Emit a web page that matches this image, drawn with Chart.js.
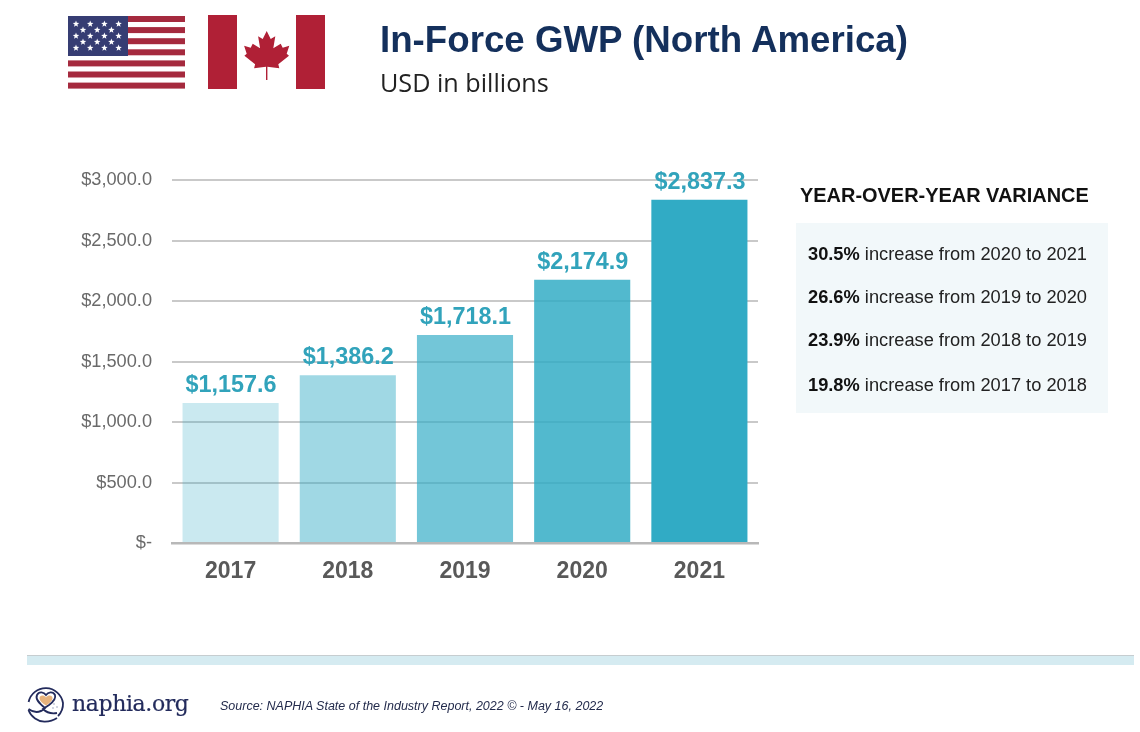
<!DOCTYPE html>
<html>
<head>
<meta charset="utf-8">
<title>In-Force GWP (North America)</title>
<script src="https://cdn.jsdelivr.net/npm/chart.js@4"></script>
<style>
  html, body { margin: 0; padding: 0; background: #fff; }
  body { position: relative; width: 1140px; height: 732px; overflow: hidden; font-family: "Liberation Sans", sans-serif; }
  .abs { position: absolute; white-space: nowrap; }
  #myChart { position: absolute; left: 0; top: 0; }
  #title { left: 380px; top: 18px; font-size: 36.7px; font-weight: bold; color: #14305c; line-height: 44px; }
  #subtitle { left: 380px; top: 66px; font-family: "Open Sans", sans-serif; font-size: 25.2px; color: #222; line-height: 33px; }
  #varTitle { left: 800px; top: 184px; font-size: 19.95px; font-weight: bold; color: #111; line-height: 23px; }
  #varPanel { left: 796px; top: 223px; width: 312px; height: 190px; background: #f2f8fa; }
  .varRow { left: 808px; font-size: 18.25px; color: #222; line-height: 20px; }
  .varRow b { color: #111; }
  #band { left: 27px; top: 655px; width: 1107px; height: 10px; background: #d5ebf1; border-top: 1px solid #c6cdd0; box-sizing: border-box; }
  #logoText { left: 72px; top: 686px; font-family: "DejaVu Serif", serif; font-size: 22px; color: #232b5c; line-height: 36px; letter-spacing: -0.4px; -webkit-text-stroke: 0.2px #232b5c; }
  #source { left: 220px; top: 698px; font-size: 12.5px; font-style: italic; color: #232b4c; line-height: 16px; }
</style>
</head>
<body>
<canvas id="myChart" width="1140" height="732"></canvas>

<svg class="abs" style="left:68px;top:16px" width="117" height="73" viewBox="0 0 117 73" id="usFlag"></svg>

<svg class="abs" style="left:208px;top:15px" width="117" height="74" viewBox="0 0 117 74">
  <rect x="0" y="0" width="29" height="74" fill="#b02036"/>
  <rect x="88" y="0" width="29" height="74" fill="#b02036"/>
  <path fill="#b02036" d="M58.7 16 L62.7 24 L67.3 21.3 L65.3 33.3 L72.7 28.7 L74.7 32.7 L81.3 30.7 L78.7 38.7 L81 40.7 L70.3 49.3 L71.3 53.3 L59.4 51.7 L59.4 65 L58 65 L58 51.7 L46.1 53.3 L47.1 49.3 L36.4 40.7 L38.7 38.7 L36.1 30.7 L42.7 32.7 L44.7 28.7 L52.1 33.3 L50.1 21.3 L54.7 24 Z"/>
</svg>

<div class="abs" id="title">In-Force GWP (North America)</div>
<div class="abs" id="subtitle">USD in billions</div>

<div class="abs" id="varTitle">YEAR-OVER-YEAR VARIANCE</div>
<div class="abs" id="varPanel"></div>

<div class="abs" id="band"></div>

<svg class="abs" style="left:26px;top:684px" width="40" height="40" viewBox="0 0 40 40">
  <path d="M2.6 18 A17.5 17.5 0 0 1 37 19 A17.5 17.5 0 0 1 32 32" fill="none" stroke="#232b5c" stroke-width="1.8"/>
  <path d="M2.5 26 C5 33 12 38 19 37.7 C24 37.5 28 36 31 34" fill="none" stroke="#232b5c" stroke-width="1.8"/>
  <path d="M2.5 25 C8 29 14 29 19 24 C13 19 9 15 11 11 C13 7 18 8 20 11 C22 8 27 7 29 11 C30 14 27 18 23 21 L17 25 C21 29 26 30 31 29" fill="none" stroke="#232b5c" stroke-width="1.8"/>
  <path d="M20 13.5 C22 10.5 26.5 11 26.5 14 C26.5 17 23 19.5 20 21.5 C17 19.5 13.5 17 13.5 14 C13.5 11 18 10.5 20 13.5 Z" fill="#e6b27c"/>
  <circle cx="28" cy="20" r="0.8" fill="#9aa0b8"/>
  <circle cx="31" cy="23" r="0.8" fill="#9aa0b8"/>
  <circle cx="27" cy="24" r="0.8" fill="#9aa0b8"/>
</svg>
<div class="abs" id="logoText">naphia.org</div>
<div class="abs" id="source">Source: NAPHIA State of the Industry Report, 2022 © - May 16, 2022</div>

<script>
const years = ["2017", "2018", "2019", "2020", "2021"];
const gwp = [1157.6, 1386.2, 1718.1, 2174.9, 2837.3];
const gwpLabels = ["$1,157.6", "$1,386.2", "$1,718.1", "$2,174.9", "$2,837.3"];
const barColors = [
  "rgba(49,171,197,0.26)",
  "rgba(49,171,197,0.46)",
  "rgba(49,171,197,0.68)",
  "rgba(49,171,197,0.84)",
  "rgba(49,171,197,1)"
];
const tickLabels = ["$-", "$500.0", "$1,000.0", "$1,500.0", "$2,000.0", "$2,500.0", "$3,000.0"];

const varPct = ["30.5%", "26.6%", "23.9%", "19.8%"];
const varText = [
  "increase from 2020 to 2021",
  "increase from 2019 to 2020",
  "increase from 2018 to 2019",
  "increase from 2017 to 2018"
];
const varTops = [244, 287, 330, 375];

varPct.forEach((pct, i) => {
  const row = document.createElement("div");
  row.className = "abs varRow";
  row.style.top = varTops[i] + "px";
  row.innerHTML = `<b>${pct}</b> ${varText[i]}`;
  document.body.appendChild(row);
});

function starPoints(cx, cy, r) {
  const pts = [];
  for (let i = 0; i < 10; i++) {
    const rad = i % 2 ? r * 0.42 : r;
    const a = -Math.PI / 2 + i * Math.PI / 5;
    pts.push(`${(cx + rad * Math.cos(a)).toFixed(2)},${(cy + rad * Math.sin(a)).toFixed(2)}`);
  }
  return pts.join(" ");
}

// us flag, stripes and stars
const flag = document.getElementById("usFlag");
let flagSvg = "";
for (let i = 0; i < 7; i++) {
  flagSvg += `<rect x="0" y="${i * 11.1}" width="117" height="6" fill="#a52a3e"/>`;
}
flagSvg += `<rect x="0" y="0" width="60" height="40" fill="#363d73"/>`;
for (let r = 0; r < 5; r++) {
  const count = r % 2 ? 3 : 4;
  for (let c = 0; c < count; c++) {
    const x = (r % 2 ? 15 : 8) + c * 14.2;
    flagSvg += `<polygon points="${starPoints(x, 8 + r * 6, 3.4)}" fill="#fff"/>`;
  }
}
flag.innerHTML = flagSvg;

const barLabels = {
  id: "barLabels",
  afterDatasetsDraw(chart) {
    const { ctx } = chart;
    const meta = chart.getDatasetMeta(0);
    ctx.save();
    ctx.font = "bold 23.4px 'Liberation Sans'";
    ctx.fillStyle = "#31a3bb";
    ctx.textAlign = "center";
    ctx.textBaseline = "alphabetic";
    meta.data.forEach((bar, i) => {
      ctx.fillText(gwpLabels[i], bar.x + 0.5, bar.y - 11);
    });
    ctx.restore();
  }
};

new Chart(document.getElementById("myChart"), {
  type: "bar",
  data: {
    labels: years,
    datasets: [{
      data: gwp,
      backgroundColor: barColors,
      borderWidth: 0,
      categoryPercentage: 0.82,
      barPercentage: 1
    }]
  },
  options: {
    responsive: false,
    animation: false,
    layout: { padding: { left: 0, right: 382, top: 180, bottom: 0 } },
    plugins: {
      legend: { display: false },
      tooltip: { enabled: false }
    },
    scales: {
      x: {
        grid: { display: false },
        border: { color: "#b8b8b8", width: 2.5 },
        afterFit(scale) { scale.height = 189; },
        ticks: {
          color: "#595959",
          padding: 7,
          font: { family: "'Liberation Sans'", size: 23, weight: "bold" }
        }
      },
      y: {
        min: 0,
        max: 3000,
        afterFit(scale) { scale.width = 172; },
        grid: { color: "#c9c9c9", lineWidth: 2, drawTicks: false },
        border: { display: false },
        ticks: {
          stepSize: 500,
          color: "#6a6a6a",
          padding: 20,
          font: { family: "'Liberation Sans'", size: 18.2 },
          callback: (value, index) => tickLabels[index]
        }
      }
    }
  },
  plugins: [barLabels]
});
</script>
</body>
</html>
